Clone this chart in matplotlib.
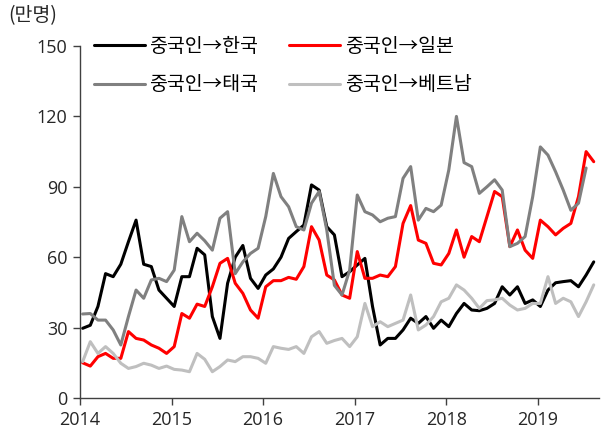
import numpy as np
import matplotlib
matplotlib.use("Agg")
import matplotlib.pyplot as plt

plt.rcParams['font.family'] = ['Noto Sans CJK KR', 'DejaVu Sans']

# monthly values, Jan 2014 - Aug 2019 (unit: 10k persons)
korea = [29.7, 31, 39, 53, 51.7, 57, 66.6, 75.8, 57, 56, 46, 42.5,
         39, 51.7, 51.7, 63.8, 61, 34.7, 25.4, 48.9, 60, 65, 51, 46.7,
         52.4, 55, 60, 68, 70.9, 73.7, 90.8, 88.6, 73, 69.5, 51.7, 53.8,
         56.7, 59.5, 39, 22.6, 25.4, 25.4, 29, 34, 31.8, 34.7, 29.7, 33.2,
         30.4, 36, 40.3, 37.5, 37.2, 38.2, 40.3, 47.4, 43.9, 47.4, 40.3, 41.8,
         39, 46, 49.1, 49.6, 50, 47.4, 52.4, 58]
japan = [15, 13.6, 17.6, 19, 16.9, 16.9, 28.3, 25.4, 24.7, 22.6, 21.2, 19,
         21.9, 36, 34, 40, 39, 47.4, 57.4, 59.5, 48.9, 44.6, 37.5, 34,
         47.4, 50, 50, 51.4, 50.6, 56, 73, 67.3, 52.4, 50.3, 43.9, 42.5,
         62.4, 51, 51, 52.4, 51.7, 56, 74.4, 82, 67.3, 65.9, 57.4, 56.7,
         61.6, 71.6, 60, 68.8, 66.6, 77.3, 88, 85.8, 64.5, 71.6, 63, 59.5,
         75.8, 73, 69.5, 72.3, 74.4, 85.8, 105, 100.7]
thailand = [35.8, 36, 33.2, 33.2, 29, 22.6, 34.7, 46, 42.5, 50.3, 51, 49.6,
            54.5, 77.3, 66.6, 70.2, 67, 63, 76.6, 79.4, 53, 58, 61.6, 63.8,
            77.3, 95.7, 85.8, 81.5, 73, 71.6, 83, 88, 71.6, 48, 43.9, 54.5,
            86.5, 79.4, 78, 75.1, 76.6, 77.3, 93.6, 98.6, 75.8, 80.8, 79.4, 82.2,
            97.2, 120, 100.3, 98.6, 87.2, 90, 93, 88.6, 64.5, 65.9, 68.8, 85.8,
            107, 103.5, 96.4, 88.6, 80, 83, 98, np.nan]
vietnam = [15.5, 24, 19, 21.9, 19, 14.8, 12.6, 13.4, 14.8, 14, 12.6, 13.6,
           12.2, 11.9, 11.2, 19, 16.5, 11.2, 13.4, 16.2, 15.5, 17.6, 17.6, 16.9,
           14.8, 21.9, 21.2, 20.7, 21.9, 19, 26.1, 28.3, 23.3, 24.5, 25.4, 21.9,
           26.1, 40.3, 30.4, 32.5, 30.4, 31.8, 33.2, 43.9, 29, 31.1, 34.7, 41,
           42.5, 48.2, 46, 42.5, 38.2, 41.5, 41.8, 42.5, 39.6, 37.5, 38.2, 40.3,
           40.3, 51.7, 40.3, 42.5, 41, 34.7, 41, 48.2]

labels = ['중국인→한국', '중국인→일본', '중국인→태국', '중국인→베트남']
colors = ['#000000', '#FF0000', '#808080', '#BFBFBF']
series = [korea, japan, thailand, vietnam]

x = 2014 + (np.arange(len(korea)) + 0.35) / 12

fig = plt.figure(figsize=(6.01, 4.36), dpi=100)
ax = fig.add_axes([80 / 601, 38 / 436, 519 / 601, 352 / 436])

lines = []
for ys, c, lab in zip(series, colors, labels):
    ln, = ax.plot(x, ys, color=c, lw=2.2, label=lab,
                  solid_joinstyle='round', solid_capstyle='round')
    lines.append(ln)

ax.set_xlim(2014, 2019.67)
ax.set_ylim(0, 150)
ax.set_yticks(range(0, 151, 30))
ax.set_xticks(range(2014, 2020))
ax.tick_params(axis='both', direction='out', length=5, width=1,
               color='#404040', labelsize=13, labelcolor='#262626', pad=4)
for t in ax.get_xticklabels() + ax.get_yticklabels():
    t.set_family(['Open Sans', 'DejaVu Sans'])
for s in ['top', 'right']:
    ax.spines[s].set_visible(False)
for s in ['left', 'bottom']:
    ax.spines[s].set_color('#404040')
    ax.spines[s].set_linewidth(1)

fig.text(8 / 601, 1 - 16 / 436, '(만명)', fontsize=14, va='center',
         ha='left', color='#262626')

# legend order: row 1 korea / japan, row 2 thailand / vietnam
leg = fig.legend([lines[0], lines[2], lines[1], lines[3]],
                 [labels[0], labels[2], labels[1], labels[3]],
                 ncol=2, loc='upper left', bbox_to_anchor=(94 / 601, 1 - 36 / 436),
                 frameon=False, fontsize=14, handlelength=2.6,
                 handletextpad=0.25, columnspacing=1.6, labelspacing=0.9,
                 borderpad=0, borderaxespad=0)

fig.savefig('out.png', dpi=100)
